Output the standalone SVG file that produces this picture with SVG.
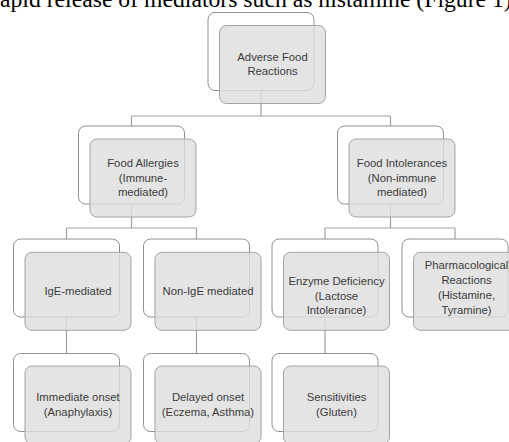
<svg xmlns="http://www.w3.org/2000/svg" width="509" height="442" viewBox="0 0 509 442">
<style>
.bg{fill:#fff}
.back{fill:#fff;stroke:#8f8f8f;stroke-width:1}
.front{fill:#dedede;fill-opacity:0.82;stroke:#a3a3a3;stroke-width:1}
.lbl{font-family:"Liberation Sans",Arial,sans-serif;font-size:11.3px;fill:#3c3c3c;text-anchor:middle}
.hdr{font-family:"Liberation Serif","Times New Roman",serif;font-size:23.7px;fill:#000}
.con{fill:none;stroke:#a0a0a0;stroke-width:1.2}
</style>
<rect class="bg" x="0" y="0" width="509" height="442"/>
<text class="hdr" x="0" y="6.5">apid release of mediators such as histamine (Figure 1)</text>
<g id="connectors">
<path class="con" d="M261 90.5V116M131.5 116H390.5M131.5 116V126M390.5 116V126"/>
<path class="con" d="M131.5 204.5V228M66.5 228H196.5M66.5 228V239M196.5 228V239"/>
<path class="con" d="M390.5 204.5V228M325 228H455M325 228V239M455 228V239"/>
<path class="con" d="M66.5 317V353.5M196.5 317V353.5M325 317V353.5"/>
</g>
<g id="n-root">
<rect class="back" x="208" y="12.5" width="106" height="78" rx="7"/>
<rect class="front" x="219.5" y="25.5" width="106" height="78" rx="7"/>
<text class="lbl" x="272.5" y="60.5">Adverse Food</text>
<text class="lbl" x="272.5" y="75">Reactions</text>
</g>
<g id="n-allergies">
<rect class="back" x="78.5" y="126" width="106" height="78" rx="7"/>
<rect class="front" x="90" y="139" width="106" height="78" rx="7"/>
<text class="lbl" x="143" y="166.7">Food Allergies</text>
<text class="lbl" x="143" y="181.5">(Immune-</text>
<text class="lbl" x="143" y="196">mediated)</text>
</g>
<g id="n-intolerances">
<rect class="back" x="337.5" y="126" width="106" height="78" rx="7"/>
<rect class="front" x="349" y="139" width="106" height="78" rx="7"/>
<text class="lbl" x="402" y="166.7">Food Intolerances</text>
<text class="lbl" x="402" y="181.5">(Non-immune</text>
<text class="lbl" x="402" y="196">mediated)</text>
</g>
<g id="n-ige">
<rect class="back" x="13.5" y="239" width="106" height="78" rx="7"/>
<rect class="front" x="25" y="252.3" width="106" height="78" rx="7"/>
<text class="lbl" x="78" y="294.8">IgE-mediated</text>
</g>
<g id="n-nonige">
<rect class="back" x="143.5" y="239" width="106" height="78" rx="7"/>
<rect class="front" x="155" y="252.3" width="106" height="78" rx="7"/>
<text class="lbl" x="208" y="294.8">Non-IgE mediated</text>
</g>
<g id="n-enzyme">
<rect class="back" x="272" y="239" width="106" height="78" rx="7"/>
<rect class="front" x="283.5" y="252.3" width="106" height="78" rx="7"/>
<text class="lbl" x="336.5" y="285">Enzyme Deficiency</text>
<text class="lbl" x="336.5" y="299.5">(Lactose</text>
<text class="lbl" x="336.5" y="314">Intolerance)</text>
</g>
<g id="n-pharma">
<rect class="back" x="402" y="239" width="106" height="78" rx="7"/>
<rect class="front" x="413.5" y="252.3" width="106" height="78" rx="7"/>
<text class="lbl" x="466.5" y="268.5">Pharmacological</text>
<text class="lbl" x="466.5" y="283.5">Reactions</text>
<text class="lbl" x="466.5" y="298.5">(Histamine,</text>
<text class="lbl" x="466.5" y="313.5">Tyramine)</text>
</g>
<g id="n-immediate">
<rect class="back" x="13.5" y="353.5" width="106" height="78" rx="7"/>
<rect class="front" x="25" y="366" width="106" height="78" rx="7"/>
<text class="lbl" x="78" y="401">Immediate onset</text>
<text class="lbl" x="78" y="415.5">(Anaphylaxis)</text>
</g>
<g id="n-delayed">
<rect class="back" x="143.5" y="353.5" width="106" height="78" rx="7"/>
<rect class="front" x="155" y="366" width="106" height="78" rx="7"/>
<text class="lbl" x="208" y="401">Delayed onset</text>
<text class="lbl" x="208" y="415.5">(Eczema, Asthma)</text>
</g>
<g id="n-sensitivities">
<rect class="back" x="272" y="353.5" width="106" height="78" rx="7"/>
<rect class="front" x="283.5" y="366" width="106" height="78" rx="7"/>
<text class="lbl" x="336.5" y="401">Sensitivities</text>
<text class="lbl" x="336.5" y="415.5">(Gluten)</text>
</g>
</svg>
